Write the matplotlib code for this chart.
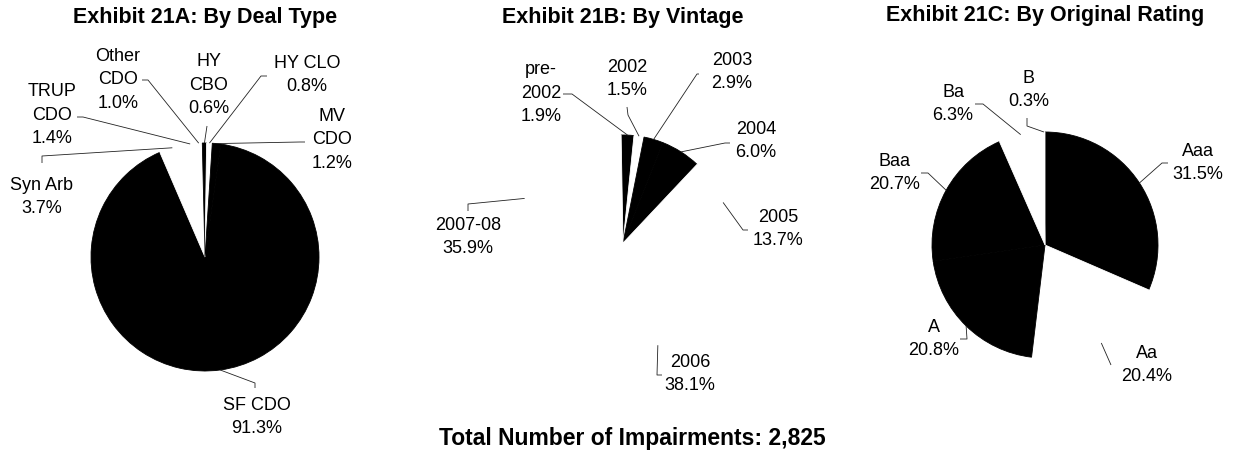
import matplotlib
matplotlib.use("Agg")
import matplotlib.pyplot as plt
import numpy as np

plt.rcParams['font.family'] = ['Liberation Sans', 'DejaVu Sans']

# Exhibit 21A: by deal type (clockwise from the top)
deal_types = ['SF CDO', 'Syn Arb', 'TRUP CDO', 'Other CDO', 'HY CBO', 'HY CLO', 'MV CDO']
deal_labels = ['SF CDO\n91.3%', 'Syn Arb\n3.7%', 'TRUP\nCDO\n1.4%', 'Other\nCDO\n1.0%',
               'HY\nCBO\n0.6%', 'HY CLO\n0.8%', 'MV\nCDO\n1.2%']
deal_pct = [91.3, 3.7, 1.4, 1.0, 0.6, 0.8, 1.2]
deal_colors = ['black', 'white', 'white', 'white', 'black', 'white', 'black']

# Exhibit 21B: by vintage
vintages = ['pre-2002', '2002', '2003', '2004', '2005', '2006', '2007-08']
vintage_labels = ['pre-\n2002\n1.9%', '2002\n1.5%', '2003\n2.9%', '2004\n6.0%',
                  '2005\n13.7%', '2006\n38.1%', '2007-08\n35.9%']
vintage_pct = [1.9, 1.5, 2.9, 6.0, 13.7, 38.1, 35.9]
vintage_colors = ['black', 'white', 'black', 'black', 'white', 'white', 'white']

# Exhibit 21C: by original rating
ratings = ['Aaa', 'Aa', 'A', 'Baa', 'Ba', 'B']
rating_labels = ['Aaa\n31.5%', 'Aa\n20.4%', 'A\n20.8%', 'Baa\n20.7%', 'Ba\n6.3%', 'B\n0.3%']
rating_pct = [31.5, 20.4, 20.8, 20.7, 6.3, 0.3]
rating_colors = ['black', 'white', 'black', 'black', 'white', 'white']

total_impairments = 2825

W, H = 1233, 454
fig = plt.figure(figsize=(W / 100, H / 100), dpi=100)
ax = fig.add_axes([0, 0, 1, 1])


def y(v):
    # image rows -> plot y
    return H - v


# label centre, leader end at label side, bend point (pixel layout)
deal_layout = {
    'SF CDO': ((257, 417), (255, 388), (255, 383)),
    'Syn Arb': ((42, 197), (42, 163), (42, 156)),
    'TRUP CDO': ((52, 115), (77, 117), (83, 117)),
    'Other CDO': ((118, 80), (142, 80), (148, 80)),
    'HY CBO': ((209, 85), (207, 126), (207, 126)),
    'HY CLO': ((307, 75), (267, 76), (261, 76)),
    'MV CDO': ((332, 140), (305, 142), (300, 142)),
}
vintage_layout = {
    'pre-2002': ((541, 93), (563, 94), (572, 94)),
    '2002': ((627, 79), (627, 107), (628, 115)),
    '2003': ((732, 72), (699, 74), (697, 74)),
    '2004': ((756, 141), (730, 143), (725, 143)),
    '2005': ((778, 229), (748, 230), (743, 230)),
    '2006': ((690, 374), (662, 375), (657, 375)),
    '2007-08': ((468, 237), (468, 211), (468, 204)),
}
rating_layout = {
    'Aaa': ((1198, 163), (1168, 163), (1162, 163)),
    'Aa': ((1147, 365), (1111, 365), (1111, 365)),
    'A': ((934, 339), (960, 339), (967, 339)),
    'Baa': ((895, 173), (921, 173), (928, 173)),
    'Ba': ((953, 104), (975, 104), (983, 104)),
    'B': ((1029, 90), (1027, 118), (1027, 126)),
}


def draw_pie(names, labels, pct, colors, layout, center, radius, start, title, title_y):
    cx, cy = center[0], y(center[1])
    wedges, _ = ax.pie(pct, colors=colors, startangle=start, counterclock=False,
                       center=(cx, cy), radius=radius)
    for w, c in zip(wedges, colors):
        # same-colour edge hides the seams between neighbouring black slices
        w.set_edgecolor(c)
        w.set_linewidth(0.6)
    for w, name, lab in zip(wedges, names, labels):
        (tx, ty), (lx, ly), (bx, by) = layout[name]
        ang = np.deg2rad((w.theta1 + w.theta2) / 2)
        px, py = cx + radius * np.cos(ang), cy + radius * np.sin(ang)
        ax.plot([lx, bx, px], [y(ly), y(by), py], color='#222222', lw=0.6,
                solid_capstyle='butt', zorder=3)
        ax.text(tx, y(ty), lab, ha='center', va='center', fontsize=13,
                linespacing=1.5)
    ax.text(cx, y(title_y), title, ha='center', va='center', fontsize=15.5,
            fontweight='bold')


draw_pie(deal_types, deal_labels, deal_pct, deal_colors, deal_layout,
         (205, 257), 114, 82, 'Exhibit 21A: By Deal Type', 18)
draw_pie(vintages, vintage_labels, vintage_pct, vintage_colors, vintage_layout,
         (623, 243), 108, 91, 'Exhibit 21B: By Vintage', 17)
draw_pie(ratings, rating_labels, rating_pct, rating_colors, rating_layout,
         (1045, 245), 113, 90, 'Exhibit 21C: By Original Rating', 15)

ax.set_xlim(0, W)
ax.set_ylim(0, H)
ax.set_aspect('auto')
ax.axis('off')

ax.text(632, y(438), f'Total Number of Impairments: {total_impairments:,}',
        ha='center', va='center', fontsize=16.5, fontweight='bold')

fig.savefig('out.png', dpi=100)
